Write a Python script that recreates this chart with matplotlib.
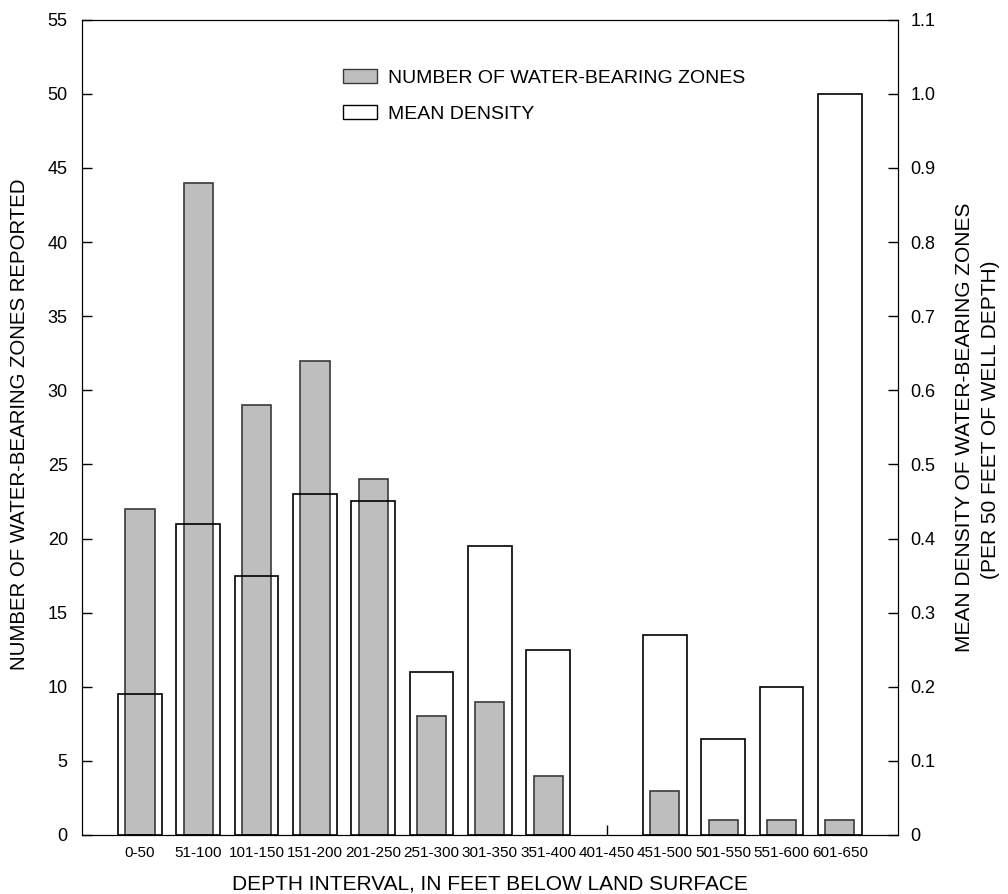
import matplotlib
matplotlib.use("Agg")
import matplotlib.pyplot as plt
from matplotlib.patches import Patch
import numpy as np

plt.rcParams['font.family'] = ['Liberation Sans', 'DejaVu Sans']

intervals = ['0-50', '51-100', '101-150', '151-200', '201-250', '251-300', '301-350',
             '351-400', '401-450', '451-500', '501-550', '551-600', '601-650']
zones = [22, 44, 29, 32, 24, 8, 9, 4, 0, 3, 1, 1, 1]
density = [0.19, 0.42, 0.35, 0.46, 0.45, 0.22, 0.39, 0.25, 0, 0.27, 0.13, 0.20, 1.0]

x = np.arange(len(intervals))

fig = plt.figure(figsize=(10.08, 8.94), dpi=100)
ax = fig.add_axes([0.081, 0.066, 0.81, 0.912])
ax2 = ax.twinx()

# gray bars -> left axis
zx = [i for i, v in zip(x, zones) if v > 0]
zv = [v for v in zones if v > 0]
ax.bar(zx, zv, width=0.5, color='#bebebe', edgecolor='#3a3a3a', linewidth=1.2, zorder=2)

# open bars for density -> right axis
dx = [i for i, v in zip(x, density) if v > 0]
dv = [v for v in density if v > 0]
ax2.bar(dx, dv, width=0.75, facecolor='none', edgecolor='black', linewidth=1.2, zorder=3)

ax.set_xlim(-1, 13)
ax.set_ylim(0, 55)
ax2.set_ylim(0, 1.1)
ax.set_yticks(np.arange(0, 56, 5))
ax2.set_yticks(np.arange(0, 1.11, 0.1))
ax2.set_yticklabels(['0'] + ['%.1f' % v for v in np.arange(0.1, 1.11, 0.1)])
ax.set_xticks(x)
ax.set_xticklabels(intervals, fontsize=11)

ax.tick_params(axis='y', direction='in', length=7, width=1, labelsize=13, pad=10)
ax2.tick_params(axis='y', direction='in', length=7, width=1, labelsize=13, pad=9)
ax.tick_params(axis='x', direction='in', length=7, width=1, pad=8)

fig.text(20 / 1008, 1 - 424 / 894, 'NUMBER OF WATER-BEARING ZONES REPORTED',
         rotation=90, ha='center', va='center', fontsize=14.7)
fig.text(965 / 1008, 1 - 427 / 894, 'MEAN DENSITY OF WATER-BEARING ZONES',
         rotation=90, ha='center', va='center', fontsize=15)
fig.text(991 / 1008, 1 - 420 / 894, '(PER 50 FEET OF WELL DEPTH)',
         rotation=90, ha='center', va='center', fontsize=15)
fig.text(490 / 1008, 1 - 884 / 894, 'DEPTH INTERVAL, IN FEET BELOW LAND SURFACE',
         ha='center', va='center', fontsize=15)

handles = [Patch(facecolor='#bebebe', edgecolor='#3a3a3a', label='NUMBER OF WATER-BEARING ZONES'),
           Patch(facecolor='white', edgecolor='black', label='MEAN DENSITY')]
ax2.legend(handles=handles, loc='upper left', bbox_to_anchor=(0.32, 0.939), frameon=False,
           fontsize=14, handlelength=1.75, handleheight=0.7, handletextpad=0.57,
           labelspacing=0.95, borderpad=0, borderaxespad=0)

fig.savefig('out.png', dpi=100)
